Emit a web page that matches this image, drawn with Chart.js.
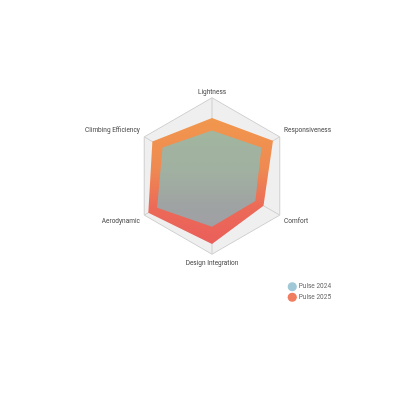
<!DOCTYPE html>
<html>
<head>
<meta charset="utf-8">
<script src="https://cdn.jsdelivr.net/npm/chart.js@4.4.0/dist/chart.umd.min.js"></script>
<style>
  html, body { margin: 0; padding: 0; background: #ffffff; }
  #wrap { width: 400px; height: 400px; }
</style>
</head>
<body>
<div id="wrap"><canvas id="c" width="400" height="400"></canvas></div>
<script>
const categories = ['Lightness', 'Responsiveness', 'Comfort', 'Design Integration', 'Aerodynamic', 'Climbing Efficiency'];
const seriesNames = ['Pulse 2024', 'Pulse 2025'];
const pulse2024 = [58, 73, 64, 65, 81, 73];
const pulse2025 = [74, 90, 76, 87, 94, 88];
const scaleMin = 0;
const scaleMax = 100;

const legendColors = ['#a0c8d7', '#f07d5f'];

function vGradient(ctx, stops) {
  const chart = ctx.chart;
  const s = chart.scales && chart.scales.r;
  if (!s || !chart.chartArea) return stops[0][1];
  const g = chart.ctx.createLinearGradient(0, s.yCenter - s.drawingArea, 0, s.yCenter + s.drawingArea);
  stops.forEach(([o, c]) => g.addColorStop(o, c));
  return g;
}

const legendPlacer = {
  id: 'legendPlacer',
  afterLayout(chart) {
    const lg = chart.legend;
    if (!lg) return;
    const w = lg.width, h = lg.height;
    lg.left = 285; lg.right = 285 + w;
    lg.bottom = 304.5; lg.top = 304.5 - h;
  }
};

new Chart(document.getElementById('c'), {
  type: 'radar',
  data: {
    labels: categories,
    datasets: [
      {
        label: seriesNames[0],
        data: pulse2024,
        fill: true,
        borderWidth: 0,
        pointRadius: 0,
        backgroundColor: (ctx) => 'rgba(96,209,225,0.55)'
      },
      {
        label: seriesNames[1],
        data: pulse2025,
        fill: true,
        borderWidth: 0,
        pointRadius: 0,
        backgroundColor: (ctx) => vGradient(ctx, [[0, '#f29c4b'], [0.45, '#ef8a52'], [0.7, '#ec6a58'], [1, '#e95b5b']])
      }
    ]
  },
  options: {
    responsive: false,
    animation: false,
    devicePixelRatio: 1,
    layout: { padding: { left: 81, right: 65, top: 52, bottom: 94 } },
    elements: { line: { tension: 0 } },
    scales: {
      r: {
        min: scaleMin,
        max: scaleMax,
        backgroundColor: '#efefef',
        ticks: { display: false, stepSize: 100 },
        grid: { color: '#cfcfcf', lineWidth: 1 },
        angleLines: { color: '#cfcfcf', lineWidth: 1 },
        pointLabels: {
          padding: (ctx) => (ctx.index === 0 ? 1 : 5),
          color: '#444444',
          font: { family: 'Roboto', size: 6.5 }
        }
      }
    },
    plugins: {
      tooltip: { enabled: false },
      legend: {
        position: 'chartArea',
        align: 'end',
        labels: {
          usePointStyle: true,
          pointStyle: 'circle',
          boxWidth: 6.5,
          boxHeight: 6.5,
          padding: 4,
          color: '#666666',
          font: { family: 'Roboto', size: 6.5 },
          generateLabels: (chart) => chart.data.datasets.map((d, i) => ({
            text: d.label,
            fillStyle: legendColors[i],
            strokeStyle: legendColors[i],
            lineWidth: 0,
            pointStyle: 'circle',
            hidden: false,
            datasetIndex: i,
            fontColor: '#666666'
          }))
        }
      }
    }
  },
  plugins: [legendPlacer]
});
</script>
</body>
</html>
